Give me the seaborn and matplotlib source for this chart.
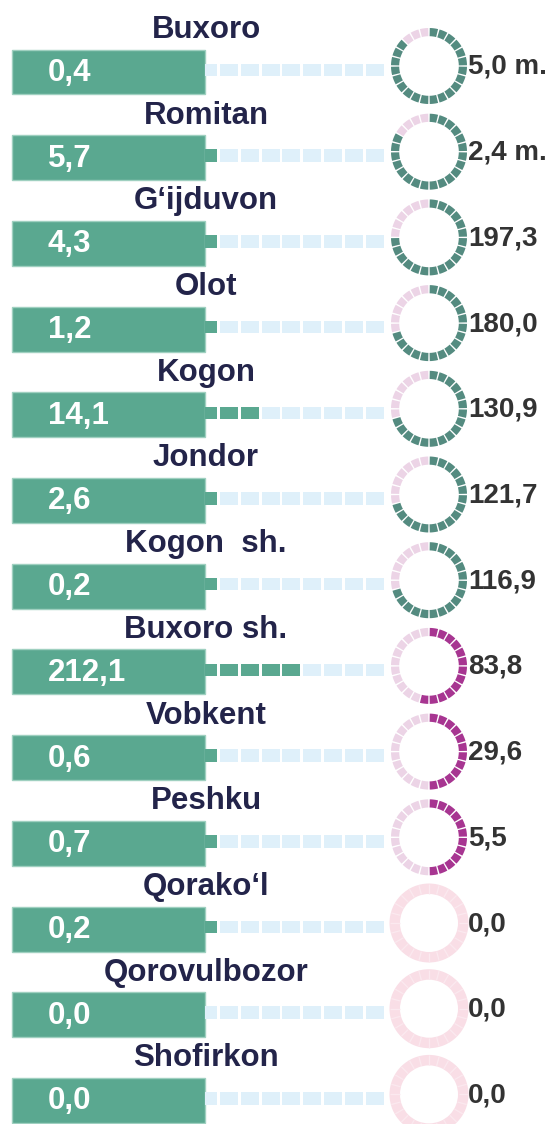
import matplotlib
matplotlib.use("Agg")
import matplotlib.pyplot as plt
from matplotlib.patches import Wedge
import numpy as np
import pandas as pd
import seaborn as sns

# ---- data -------------------------------------------------------------
districts = ["Buxoro", "Romitan", "G\u2018ijduvon", "Olot", "Kogon", "Jondor",
             "Kogon  sh.", "Buxoro sh.", "Vobkent", "Peshku", "Qorako\u2018l",
             "Qorovulbozor", "Shofirkon"]
bar_values = [0.4, 5.7, 4.3, 1.2, 14.1, 2.6, 0.2, 212.1, 0.6, 0.7, 0.2, 0.0, 0.0]
bar_labels = ["0,4", "5,7", "4,3", "1,2", "14,1", "2,6", "0,2", "212,1",
              "0,6", "0,7", "0,2", "0,0", "0,0"]
# filled units of the dashed track (first unit is the short stub)
dash_fill = [0, 1, 1, 1, 3, 1, 1, 5, 1, 1, 1, 0, 0]
ring_values = [5.0e6, 2.4e6, 197.3, 180.0, 130.9, 121.7, 116.9, 83.8, 29.6, 5.5, 0.0, 0.0, 0.0]
ring_labels = ["5,0 m.", "2,4 m.", "197,3", "180,0", "130,9", "121,7", "116,9",
               "83,8", "29,6", "5,5", "0,0", "0,0", "0,0"]
# filled segments out of 24 on each ring
ring_fill = [21, 20, 18, 17, 17, 17, 17, 13, 12, 12, 0, 0, 0]
ring_group = ["high"] * 7 + ["mid"] * 3 + ["zero"] * 3

# ---- style ------------------------------------------------------------
sns.set_theme(style="white")
plt.rcParams["font.family"] = ["Liberation Sans", "DejaVu Sans"]

BOX = "#5aa890"
BOX_EDGE = "#9fd0c0"
DASH_ON = "#5aa890"
DASH_OFF = "#dff0fa"
TEAL = "#548b80"
MAGENTA = "#a73591"
PINK = "#ecd4e6"
ZERO = "#f9dee6"
NAVY = "#23244a"
GREY = "#333333"

W, H = 552, 1124
fig = plt.figure(figsize=(W / 100, H / 100), dpi=100)
ax = fig.add_axes([0, 0, 1, 1])

n = len(districts)
row_y = 72 + 85.7 * np.arange(n)

# ---- label boxes ------------------------------------------------------
box_x0, box_x1 = 12, 205
df = pd.DataFrame({"district": districts, "y": row_y,
                   "box": np.full(n, box_x1 - box_x0, dtype=float)})
sns.barplot(data=df, x="box", y="y", orient="h", native_scale=True,
            color=BOX, saturation=1, width=45 / 85.7, ax=ax,
            edgecolor=BOX_EDGE, linewidth=1.0)
for p in ax.patches:
    p.set_x(box_x0)
ax.set_xlim(0, W)
ax.set_ylim(H, 0)
ax.axis("off")

# ---- dashed tracks ----------------------------------------------------
dash_y_off = -2
stub_w = 12
pitch, dash_w = 20.8, 18.0
for i in range(n):
    yc = row_y[i] + dash_y_off
    lefts = [box_x1] + [box_x1 + 15 + pitch * k for k in range(8)]
    widths = [stub_w] + [dash_w] * 8
    for k, (lx, wd) in enumerate(zip(lefts, widths)):
        col = DASH_ON if k < dash_fill[i] else DASH_OFF
        ax.barh(yc, wd, left=lx, height=12.5, color=col, linewidth=0)

# ---- segmented rings --------------------------------------------------
cx = 429
nseg = 24
step = 360 / nseg
for i in range(n):
    cy = row_y[i] - 6
    grp = ring_group[i]
    on = TEAL if grp == "high" else MAGENTA
    if grp == "zero":
        ax.add_patch(Wedge((cx, cy), 39.5, 0, 360, width=10.5,
                           facecolor=ZERO, edgecolor="none"))
        for k in range(nseg):
            a = np.deg2rad(-90 + step * k)
            ax.plot([cx + 29.5 * np.cos(a), cx + 39 * np.cos(a)],
                    [cy + 29.5 * np.sin(a), cy + 39 * np.sin(a)],
                    color="#fbe9ef", lw=0.9, solid_capstyle="butt")
    else:
        gap = 2.3
        for k in range(nseg):
            t1 = -90 + step * k + gap / 2
            t2 = -90 + step * (k + 1) - gap / 2
            col = on if k < ring_fill[i] else PINK
            ax.add_patch(Wedge((cx, cy), 38, t1, t2, width=8.2,
                               facecolor=col, edgecolor="none"))
    ax.text(cx + 39, cy + 1, ring_labels[i], ha="left", va="center",
            fontsize=20, fontweight="bold", color=GREY)

# ---- text -------------------------------------------------------------
for i in range(n):
    ax.text(206, row_y[i] - 42, districts[i], ha="center", va="center",
            fontsize=22.5, fontweight="bold", color=NAVY)
    ax.text(48, row_y[i] + 1, bar_labels[i], ha="left", va="center",
            fontsize=22.5, fontweight="bold", color="white")

fig.savefig("out.png", dpi=100, facecolor="white")
